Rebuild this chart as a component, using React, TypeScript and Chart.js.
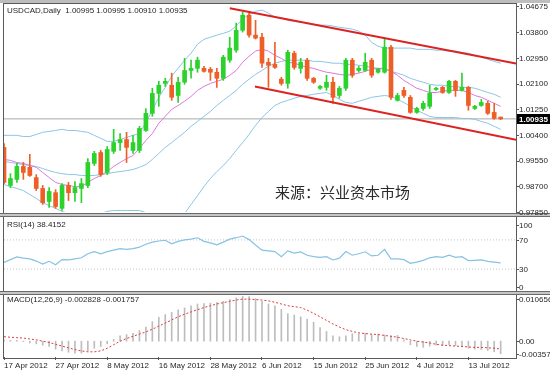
import React, { useEffect, useRef } from 'react';
import { Chart, registerables } from 'chart.js';

Chart.register(...registerables);

// ---------- data ----------
const dateLabels = ['17 Apr 2012', '27 Apr 2012', '8 May 2012', '16 May 2012', '28 May 2012', '6 Jun 2012', '15 Jun 2012', '25 Jun 2012', '4 Jul 2012', '13 Jul 2012'];
const barsPerDateLabel = 8;

const opens = [0.9999, 0.9873, 0.9893, 0.9936, 0.9933, 0.9899, 0.9863, 0.9820, 0.9849, 0.9797,
  0.9873, 0.9849, 0.9863, 0.9873, 0.9946, 0.9982, 0.9916, 0.9986, 1.0015, 1.0025,
  0.9989, 0.9989, 1.0055, 1.0112, 1.0178, 1.0211, 1.0205, 1.0171, 1.0215, 1.0254,
  1.0261, 1.0261, 1.0258, 1.0248, 1.0228, 1.0288, 1.0321, 1.0387, 1.0437, 1.0371,
  1.0364, 1.0281, 1.0274, 1.0225, 1.0211, 1.0311, 1.0261, 1.0288, 1.0228, 1.0195,
  1.0198, 1.0215, 1.0171, 1.0195, 1.0288, 1.0254, 1.0254, 1.0288, 1.0248, 1.0248,
  1.0331, 1.0155, 1.0188, 1.0165, 1.0115, 1.0128, 1.0135, 1.0191, 1.0198, 1.0181,
  1.0218, 1.0188, 1.0198, 1.0128, 1.0138, 1.0145, 1.0115, 1.00995];
const highs = [1.0012, 0.9912, 0.9946, 0.9949, 0.9976, 0.9909, 0.9873, 0.9866, 0.9859, 0.9879,
  0.9883, 0.9886, 0.9896, 0.9962, 0.9986, 0.9989, 1.0002, 1.0059, 1.0045, 1.0049,
  1.0039, 1.0069, 1.0128, 1.0195, 1.0218, 1.0228, 1.0245, 1.0231, 1.0294, 1.0288,
  1.0298, 1.0268, 1.0264, 1.0261, 1.0304, 1.0364, 1.0411, 1.0447, 1.0444, 1.0420,
  1.0377, 1.0294, 1.0347, 1.0231, 1.0321, 1.0318, 1.0294, 1.0294, 1.0231, 1.0205,
  1.0238, 1.0231, 1.0201, 1.0294, 1.0294, 1.0268, 1.0311, 1.0294, 1.0261, 1.0361,
  1.0337, 1.0178, 1.0198, 1.0171, 1.0132, 1.0152, 1.0205, 1.0198, 1.0201, 1.0221,
  1.0221, 1.0245, 1.0201, 1.0138, 1.0158, 1.0152, 1.0145, 1.00995];
const lows = [0.9879, 0.9866, 0.9883, 0.9893, 0.9903, 0.9856, 0.9810, 0.9800, 0.9797, 0.9790,
  0.9823, 0.9820, 0.9816, 0.9866, 0.9939, 0.9903, 0.9909, 0.9979, 0.9989, 0.9949,
  0.9979, 0.9982, 1.0052, 1.0102, 1.0135, 1.0201, 1.0155, 1.0148, 1.0208, 1.0228,
  1.0248, 1.0248, 1.0221, 1.0198, 1.0221, 1.0281, 1.0314, 1.0381, 1.0364, 1.0358,
  1.0264, 1.0198, 1.0261, 1.0205, 1.0195, 1.0258, 1.0245, 1.0221, 1.0211, 1.0191,
  1.0188, 1.0145, 1.0162, 1.0188, 1.0231, 1.0248, 1.0251, 1.0231, 1.0245, 1.0245,
  1.0158, 1.0152, 1.0165, 1.0112, 1.0112, 1.0122, 1.0128, 1.0188, 1.0178, 1.0178,
  1.0168, 1.0185, 1.0122, 1.0125, 1.0135, 1.0108, 1.0092, 1.0091];
const closes = [0.9883, 0.9896, 0.9936, 0.9916, 0.9906, 0.9863, 0.9816, 0.9853, 0.9803, 0.9873,
  0.9849, 0.9866, 0.9879, 0.9949, 0.9979, 0.9909, 0.9992, 1.0015, 1.0025, 0.9999,
  1.0015, 1.0062, 1.0112, 1.0178, 1.0205, 1.0218, 1.0165, 1.0215, 1.0254, 1.0261,
  1.0288, 1.0251, 1.0248, 1.0228, 1.0298, 1.0328, 1.0387, 1.0437, 1.0371, 1.0361,
  1.0278, 1.0271, 1.0264, 1.0211, 1.0314, 1.0264, 1.0281, 1.0228, 1.0215, 1.0201,
  1.0215, 1.0165, 1.0195, 1.0288, 1.0238, 1.0261, 1.0281, 1.0238, 1.0258, 1.0331,
  1.0165, 1.0171, 1.0171, 1.0115, 1.0128, 1.0145, 1.0178, 1.0195, 1.0181, 1.0218,
  1.0188, 1.0198, 1.0138, 1.0135, 1.0148, 1.0112, 1.0095, 1.00935];

const bbUpper = [1.0039, 1.0039, 1.0039, 1.0035, 1.0035, 1.0042, 1.0049, 1.0052, 1.0055, 1.0059,
  1.0055, 1.0055, 1.0052, 1.0049, 1.0039, 1.0029, 1.0019, 1.0019, 1.0025, 1.0032,
  1.0039, 1.0045, 1.0082, 1.0122, 1.0165, 1.0198, 1.0235, 1.0261, 1.0288, 1.0311,
  1.0341, 1.0357, 1.0364, 1.0371, 1.0377, 1.0384, 1.0401, 1.0424, 1.0440, 1.0450,
  1.0454, 1.0444, 1.0430, 1.0427, 1.0420, 1.0417, 1.0414, 1.0411, 1.0407, 1.0404,
  1.0404, 1.0401, 1.0397, 1.0394, 1.0391, 1.0384, 1.0371, 1.0347, 1.0334, 1.0328,
  1.0328, 1.0328, 1.0328, 1.0328, 1.0324, 1.0324, 1.0324, 1.0321, 1.0321, 1.0318,
  1.0318, 1.0314, 1.0311, 1.0304, 1.0298, 1.0291, 1.0284, 1.0278];
const bbMiddle = [0.9952, 0.9949, 0.9946, 0.9942, 0.9939, 0.9936, 0.9929, 0.9922, 0.9916, 0.9912,
  0.9909, 0.9909, 0.9906, 0.9906, 0.9906, 0.9909, 0.9912, 0.9916, 0.9919, 0.9922,
  0.9926, 0.9933, 0.9942, 0.9959, 0.9979, 0.9999, 1.0015, 1.0032, 1.0049, 1.0069,
  1.0085, 1.0102, 1.0118, 1.0138, 1.0155, 1.0171, 1.0188, 1.0208, 1.0225, 1.0241,
  1.0254, 1.0268, 1.0278, 1.0284, 1.0288, 1.0288, 1.0288, 1.0288, 1.0284, 1.0284,
  1.0281, 1.0278, 1.0278, 1.0274, 1.0274, 1.0271, 1.0268, 1.0264, 1.0261, 1.0258,
  1.0251, 1.0245, 1.0238, 1.0228, 1.0221, 1.0215, 1.0208, 1.0205, 1.0205, 1.0201,
  1.0201, 1.0198, 1.0198, 1.0195, 1.0188, 1.0181, 1.0175, 1.0165];
const bbLower = [0.9876, 0.9869, 0.9863, 0.9856, 0.9843, 0.9830, 0.9816, 0.9806, 0.9797, 0.9787,
  0.9780, 0.9773, 0.9770, 0.9770, 0.9773, 0.9780, 0.9787, 0.9790, 0.9790, 0.9790,
  0.9790, 0.9790, 0.9783, 0.9773, 0.9763, 0.9757, 0.9757, 0.9767, 0.9780, 0.9810,
  0.9839, 0.9869, 0.9896, 0.9919, 0.9939, 0.9962, 0.9989, 1.0015, 1.0042, 1.0072,
  1.0098, 1.0118, 1.0138, 1.0148, 1.0155, 1.0162, 1.0168, 1.0171, 1.0175, 1.0178,
  1.0181, 1.0171, 1.0158, 1.0148, 1.0145, 1.0152, 1.0158, 1.0165, 1.0168, 1.0171,
  1.0168, 1.0158, 1.0148, 1.0135, 1.0122, 1.0112, 1.0102, 1.0098, 1.0098, 1.0098,
  1.0098, 1.0095, 1.0095, 1.0092, 1.0085, 1.0079, 1.0069, 1.0059];
const maLine = [0.9959, 0.9956, 0.9949, 0.9946, 0.9939, 0.9933, 0.9916, 0.9899, 0.9883, 0.9876,
  0.9873, 0.9869, 0.9869, 0.9883, 0.9896, 0.9906, 0.9919, 0.9936, 0.9949, 0.9962,
  0.9972, 0.9996, 1.0022, 1.0045, 1.0079, 1.0102, 1.0125, 1.0138, 1.0152, 1.0168,
  1.0188, 1.0201, 1.0211, 1.0218, 1.0225, 1.0238, 1.0254, 1.0281, 1.0301, 1.0318,
  1.0324, 1.0318, 1.0304, 1.0294, 1.0281, 1.0278, 1.0271, 1.0264, 1.0261, 1.0254,
  1.0248, 1.0245, 1.0241, 1.0238, 1.0241, 1.0245, 1.0251, 1.0258, 1.0261, 1.0261,
  1.0251, 1.0238, 1.0221, 1.0208, 1.0195, 1.0188, 1.0181, 1.0181, 1.0185, 1.0188,
  1.0188, 1.0188, 1.0181, 1.0171, 1.0165, 1.0155, 1.0145, 1.0135];

const rsiValues = [39, 43, 46.6, 45, 44, 41, 37, 40.7, 36, 43,
  42.6, 44, 45.5, 51, 54, 51, 54, 56, 58, 57,
  58, 60, 64, 67, 68.5, 69.5, 64.7, 68, 70, 71,
  72.9, 68, 66, 63.3, 67, 71, 73, 75.3, 70.4, 63,
  56, 55, 54, 47, 55, 52, 53.5, 49, 47, 46,
  47, 42.5, 45, 54, 49, 51, 53.7, 48, 49, 57,
  44, 44, 43, 38, 39.5, 42, 45.5, 47, 46, 49,
  46, 47, 41.6, 42, 42.5, 40.7, 39.5, 38.4152];
const rsiLevels = [70, 30];

const macdMain = [0.0003, 0.0002, 0.0002, -0.0001, -0.0004, -0.0006, -0.0009, -0.0012, -0.0018, -0.0022,
  -0.0025, -0.0027, -0.0027, -0.0022, -0.0016, -0.0012, -0.0006, 0.0004, 0.0012, 0.0015,
  0.0018, 0.0024, 0.0032, 0.0044, 0.0054, 0.0060, 0.0065, 0.0071, 0.0075, 0.0080,
  0.0084, 0.0085, 0.0086, 0.0087, 0.0090, 0.0094, 0.0098, 0.0101, 0.0101, 0.0096,
  0.0090, 0.0084, 0.0080, 0.0072, 0.0062, 0.0059, 0.0055, 0.0050, 0.0043, 0.0031,
  0.0022, 0.0012, 0.0010, 0.0012, 0.0017, 0.0017, 0.0018, 0.0015, 0.0016, 0.0014,
  0.0012, 0.0013, 0.0003, -0.0008, -0.0012, -0.0014, -0.0011, -0.0009, -0.0010, -0.0008,
  -0.0010, -0.0012, -0.0016, -0.0018, -0.0019, -0.0021, -0.0024, -0.002828];
const macdSignal = [0.0010, 0.0009, 0.0008, 0.0007, 0.0005, 0.0003, 0.0000, -0.0003, -0.0007, -0.0011,
  -0.0015, -0.0019, -0.0022, -0.0024, -0.0024, -0.0022, -0.0016, -0.0008, 0.0000, 0.0006,
  0.0011, 0.0016, 0.0021, 0.0027, 0.0034, 0.0041, 0.0048, 0.0055, 0.0061, 0.0066,
  0.0071, 0.0076, 0.0080, 0.0084, 0.0087, 0.0090, 0.0093, 0.0095, 0.0095, 0.0094,
  0.0093, 0.0091, 0.0088, 0.0084, 0.0080, 0.0078, 0.0076, 0.0070, 0.0063, 0.0055,
  0.0047, 0.0039, 0.0032, 0.0026, 0.0022, 0.0019, 0.0017, 0.0016, 0.0015, 0.0013,
  0.0011, 0.0009, 0.0006, 0.0003, 0.0000, -0.0002, -0.0004, -0.0007, -0.0009, -0.0010,
  -0.0011, -0.0012, -0.0013, -0.0014, -0.0014, -0.0015, -0.0016, -0.001757];

const priceTicks = [1.04675, 1.038, 1.0295, 1.021, 1.0125, 1.004, 0.9955, 0.987, 0.9785];
const priceTickLabels = ['1.04675', '1.03800', '1.02950', '1.02100', '1.01250', '1.00400', '0.99550', '0.98700', '0.97850'];
const rsiTicks = [100, 70, 30, 0];
const rsiTickLabels = ['100', '70', '30', '0'];
const macdTicks = [0.010656, 0, -0.00357];
const macdTickLabels = ['0.010656', '0.00', '-0.00357'];
const lastPrice = 1.00935;
const lastPriceLabel = '1.00935';

const trendUpperBars = [35, 79.38];
const trendUpperPrices = [1.046, 1.0277];
const trendLowerBars = [38.9, 79.38];
const trendLowerPrices = [1.0201, 1.0024];

const titleText = 'USDCAD,Daily  1.00995 1.00995 1.00910 1.00935';
const rsiText = 'RSI(14) 38.4152';
const macdText = 'MACD(12,26,9) -0.002828 -0.001757';
const sourceText = '来源：兴业资本市场';

// ---------- styling / layout ----------
const X_MAX = 79.38;
const AXIS_W = 34;
const FONT = '"Liberation Sans", Arial, sans-serif';
const GREEN = '#2cd22c';
const ORANGE = '#ee5f28';
const BAND = '#8cc4e6';
const PINK = '#dc78dc';
const RED = '#dd2222';

const pts = (arr: number[]) => arr.map((v, i) => ({ x: i, y: v }));

function makeSideLabels(values: number[], labels: string[], insetTop: number, insetBottom: number, box?: { value: number; text: string }) {
  return {
    id: 'sideLabels',
    afterDatasetsDraw(chart: any) {
      const { ctx, chartArea } = chart;
      const ys = chart.scales.y;
      ctx.save();
      ctx.font = `8px ${FONT}`;
      ctx.textBaseline = 'middle';
      ctx.textAlign = 'left';
      values.forEach((v, k) => {
        const py = ys.getPixelForValue(v);
        const ty = Math.min(Math.max(py, chartArea.top + insetTop), chartArea.bottom - insetBottom);
        ctx.fillStyle = '#555';
        ctx.fillRect(chartArea.right + 1, Math.round(ty), 2, 1);
        ctx.fillStyle = '#262626';
        ctx.fillText(labels[k], chartArea.right + 3, ty + 0.5);
      });
      if (box) {
        const py = ys.getPixelForValue(box.value);
        ctx.fillStyle = '#000';
        ctx.fillRect(chartArea.right + 1, Math.round(py) - 5, AXIS_W - 1, 10);
        ctx.fillStyle = '#fff';
        ctx.font = `bold 8px ${FONT}`;
        ctx.fillText(box.text, chartArea.right + 3, py + 0.5);
      }
      ctx.restore();
    },
  };
}

function xScale(show: boolean): any {
  const base: any = {
    type: 'linear', min: 0, max: X_MAX, bounds: 'data', offset: false, display: show,
    grid: { display: show, offset: false, drawOnChartArea: false, drawTicks: true, tickLength: 3, color: '#555' },
    border: { display: false },
  };
  if (show) {
    base.ticks = {
      autoSkip: false, maxRotation: 0, minRotation: 0, align: 'start', padding: 1, color: '#262626',
      font: { family: 'Liberation Sans', size: 8 },
      callback: (_v: any, idx: number) => dateLabels[idx] ?? '',
    };
    base.afterBuildTicks = (s: any) => { s.ticks = dateLabels.map((_, k) => ({ value: k * barsPerDateLabel })); };
    base.afterFit = (s: any) => { s.height = 14; };
  }
  return base;
}

function yScale(min: number, max: number): any {
  return {
    type: 'linear', position: 'right', min, max, bounds: 'data',
    grid: { display: false }, border: { display: false }, ticks: { display: false },
    afterFit: (s: any) => { s.width = AXIS_W; },
  };
}

const baseOptions = (padTop: number, padBottom: number) => ({
  animation: false as const,
  responsive: false,
  maintainAspectRatio: false,
  devicePixelRatio: 1,
  events: [] as any[],
  layout: { padding: { left: 4, right: 0, top: padTop, bottom: padBottom } },
  plugins: { legend: { display: false }, tooltip: { enabled: false } },
});

const lineDs = (data: any[], color: string, width = 1, dash: number[] = []) => ({
  type: 'line' as const, data, borderColor: color, borderWidth: width, borderDash: dash,
  pointRadius: 0, tension: 0, fill: false, clip: 0,
});

export default function App() {
  const mainRef = useRef<HTMLCanvasElement>(null);
  const rsiRef = useRef<HTMLCanvasElement>(null);
  const macdRef = useRef<HTMLCanvasElement>(null);

  useEffect(() => {
    document.body.style.margin = '0';
    const candleColors = closes.map((c, i) => (c >= opens[i] ? GREEN : ORANGE));

    const main = new Chart(mainRef.current as HTMLCanvasElement, {
      type: 'bar',
      data: {
        datasets: [
          lineDs(trendUpperBars.map((b, k) => ({ x: b, y: trendUpperPrices[k] })), RED, 2),
          lineDs(trendLowerBars.map((b, k) => ({ x: b, y: trendLowerPrices[k] })), RED, 2),
          {
            type: 'bar', data: lows.map((l, i) => ({ x: i, y: [l, highs[i]] })),
            backgroundColor: candleColors, barThickness: 1, grouped: false, clip: 0,
          } as any,
          {
            type: 'bar', data: opens.map((o, i) => ({ x: i, y: [o, closes[i]] })),
            backgroundColor: candleColors, barThickness: 4, minBarLength: 1, grouped: false, clip: 0,
          } as any,
          lineDs(pts(maLine), PINK),
          lineDs(pts(bbUpper), BAND),
          lineDs(pts(bbMiddle), BAND),
          lineDs(pts(bbLower), BAND),
          lineDs([{ x: 0, y: lastPrice }, { x: X_MAX, y: lastPrice }], '#a9a9a9'),
        ],
      },
      options: {
        ...baseOptions(6, 4),
        scales: { x: xScale(false), y: yScale(priceTicks[priceTicks.length - 1], priceTicks[0]) },
      } as any,
      plugins: [makeSideLabels(priceTicks, priceTickLabels, 0, 0, { value: lastPrice, text: lastPriceLabel })],
    });

    const rsi = new Chart(rsiRef.current as HTMLCanvasElement, {
      type: 'line',
      data: {
        datasets: [
          lineDs(pts(rsiValues), '#86c2e4', 1.2),
          ...rsiLevels.map((lv) => lineDs([{ x: 0, y: lv }, { x: X_MAX, y: lv }], '#c4c4c4', 1, [1, 2])),
        ],
      },
      options: {
        ...baseOptions(2, 2),
        scales: { x: xScale(false), y: yScale(rsiTicks[rsiTicks.length - 1], rsiTicks[0]) },
      } as any,
      plugins: [makeSideLabels(rsiTicks, rsiTickLabels, 7, 4)],
    });

    const macd = new Chart(macdRef.current as HTMLCanvasElement, {
      type: 'bar',
      data: {
        datasets: [
          lineDs(pts(macdSignal), '#e03a3a', 1, [2, 2]),
          {
            type: 'bar', data: pts(macdMain), backgroundColor: '#bdbdbd',
            barThickness: 1, grouped: false, clip: 0,
          } as any,
        ],
      },
      options: {
        ...baseOptions(2, 2),
        scales: { x: xScale(true), y: yScale(macdTicks[macdTicks.length - 1], macdTicks[0]) },
      } as any,
      plugins: [makeSideLabels(macdTicks, macdTickLabels, 5, 3)],
    });

    return () => { main.destroy(); rsi.destroy(); macd.destroy(); };
  }, []);

  const line = (l: number, t: number, w: number, h: number, c: string): React.CSSProperties => ({
    position: 'absolute', left: l, top: t, width: w, height: h, background: c,
  });
  const sep = (t: number): React.CSSProperties => ({
    position: 'absolute', left: 0, top: t, width: 550, height: 4, background: '#c6c6c6',
    borderTop: '1px solid #6a6a6a', borderBottom: '1px solid #6a6a6a', boxSizing: 'border-box',
  });
  const label = (t: number): React.CSSProperties => ({
    position: 'absolute', left: 7, top: t, font: `8px ${FONT}`, lineHeight: '10px',
    color: '#262626', whiteSpace: 'pre',
  });

  return (
    <div style={{ position: 'absolute', left: 0, top: 0, width: 550, height: 373, background: '#fff', overflow: 'hidden' }}>
      <div style={line(0, 0, 550, 3, '#bdbdbd')} />
      <div style={line(3, 3, 514, 1, '#5a5a5a')} />
      <div style={line(3, 3, 1, 355, '#5a5a5a')} />
      <div style={line(516, 3, 1, 355, '#5a5a5a')} />
      <div style={line(3, 358, 514, 1, '#5a5a5a')} />
      <div style={sep(213)} />
      <div style={sep(291)} />
      <canvas ref={mainRef} width={550} height={216} style={{ position: 'absolute', left: 0, top: 0, width: 550, height: 216 }} />
      <canvas ref={rsiRef} width={550} height={77} style={{ position: 'absolute', left: 0, top: 216, width: 550, height: 77 }} />
      <canvas ref={macdRef} width={550} height={81} style={{ position: 'absolute', left: 0, top: 292, width: 550, height: 81 }} />
      <div style={label(6)}>{titleText}</div>
      <div style={label(220)}>{rsiText}</div>
      <div style={label(295)}>{macdText}</div>
      <div style={{ position: 'absolute', left: 275, top: 184, font: '15px "Noto Sans CJK SC", sans-serif', lineHeight: '15px', color: '#2a2a2a', whiteSpace: 'nowrap' }}>{sourceText}</div>
    </div>
  );
}
